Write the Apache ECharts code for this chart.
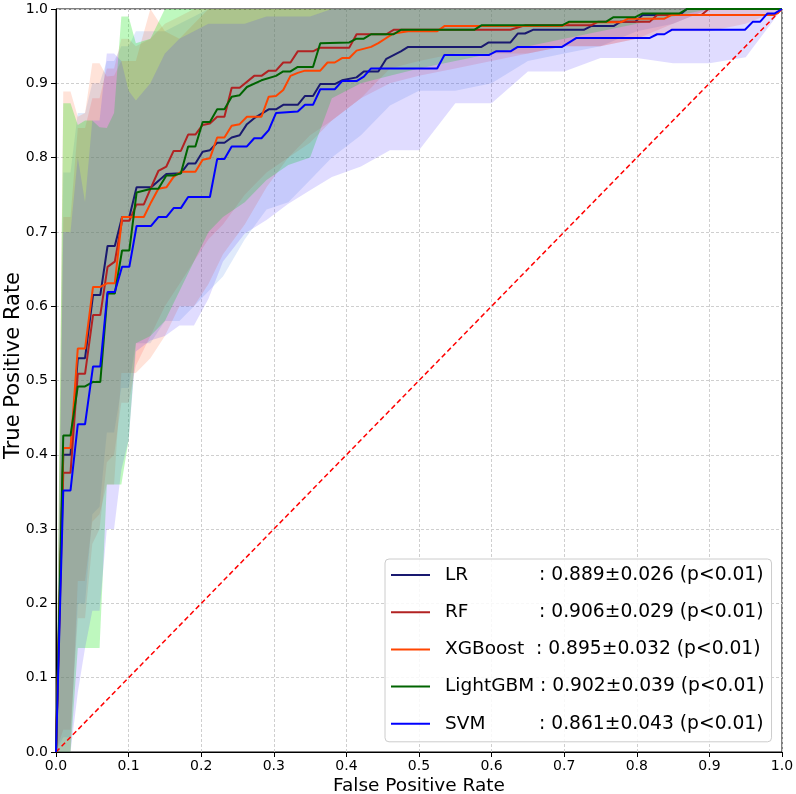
<!DOCTYPE html>
<html><head><meta charset="utf-8">
<script src="https://cdn.jsdelivr.net/npm/echarts@6/dist/echarts.min.js"></script>
<style>html,body{margin:0;padding:0;background:#fff}#c{width:796px;height:794px}</style>
</head><body><div id="c"></div>
<script>
// ---------- data ----------
const models = ['LR', 'RF', 'XGBoost', 'LightGBM', 'SVM'];
const aucLabels = [
  ': 0.889±0.026 (p<0.01)',
  ': 0.906±0.029 (p<0.01)',
  ': 0.895±0.032 (p<0.01)',
  ': 0.902±0.039 (p<0.01)',
  ': 0.861±0.043 (p<0.01)'
];
const axisTicks = [0, 0.1, 0.2, 0.3, 0.4, 0.5, 0.6, 0.7, 0.8, 0.9, 1.0];

// mean ROC curves [fpr, tpr]
const rocLR = [[0,0],[.010,.40],[.020,.40],[.030,.53],[.040,.53],[.051,.615],[.061,.615],[.071,.681],[.081,.681],[.091,.720],[.101,.720],[.111,.760],[.131,.760],[.152,.778],[.172,.779],[.182,.792],[.192,.792],[.202,.808],[.212,.810],[.222,.820],[.232,.820],[.242,.827],[.253,.830],[.263,.845],[.273,.853],[.293,.865],[.303,.865],[.313,.871],[.333,.871],[.343,.883],[.354,.883],[.364,.899],[.384,.899],[.394,.904],[.414,.908],[.424,.916],[.444,.916],[.455,.933],[.475,.943],[.485,.949],[.586,.949],[.596,.955],[.626,.955],[.636,.967],[.646,.967],[.657,.972],[.727,.972],[.737,.977],[.768,.977],[.778,.983],[.798,.983],[.808,.992],[.859,.992],[.869,1],[1,1]];
const rocRF = [[0,0],[.010,.376],[.020,.376],[.030,.509],[.040,.509],[.051,.588],[.061,.588],[.071,.653],[.081,.660],[.091,.715],[.101,.715],[.111,.737],[.121,.737],[.131,.760],[.141,.782],[.152,.788],[.162,.809],[.172,.809],[.182,.831],[.192,.831],[.202,.844],[.212,.846],[.222,.855],[.232,.855],[.242,.894],[.253,.894],[.273,.910],[.283,.910],[.293,.917],[.303,.917],[.313,.928],[.323,.928],[.333,.943],[.354,.943],[.364,.948],[.404,.948],[.414,.966],[.455,.966],[.465,.972],[.626,.972],[.646,.978],[.737,.978],[.747,.983],[.818,.983],[.828,.992],[.889,.992],[.899,1],[1,1]];
const rocXGB = [[0,0],[.010,.409],[.020,.409],[.030,.543],[.040,.543],[.051,.626],[.061,.626],[.071,.631],[.081,.631],[.091,.720],[.121,.720],[.131,.740],[.141,.758],[.152,.760],[.162,.774],[.172,.781],[.192,.781],[.202,.797],[.212,.799],[.222,.827],[.232,.827],[.242,.843],[.253,.845],[.263,.855],[.283,.855],[.293,.882],[.303,.883],[.313,.891],[.323,.910],[.333,.914],[.343,.917],[.364,.917],[.374,.928],[.384,.928],[.394,.934],[.404,.934],[.414,.944],[.434,.949],[.444,.954],[.455,.961],[.465,.967],[.485,.970],[.525,.970],[.535,.977],[.697,.977],[.707,.982],[.778,.982],[.788,.987],[.838,.987],[.848,.992],[.990,.992],[1,1]];
const rocLGBM = [[0,0],[.010,.426],[.020,.426],[.030,.492],[.040,.492],[.051,.498],[.061,.498],[.071,.617],[.081,.617],[.091,.675],[.101,.675],[.111,.753],[.131,.758],[.141,.758],[.152,.776],[.162,.776],[.172,.779],[.182,.815],[.192,.815],[.202,.848],[.212,.848],[.222,.865],[.232,.865],[.242,.882],[.253,.884],[.263,.895],[.283,.904],[.303,.910],[.313,.916],[.323,.916],[.333,.922],[.354,.922],[.364,.954],[.404,.955],[.414,.960],[.424,.960],[.434,.966],[.465,.966],[.475,.972],[.576,.972],[.586,.978],[.697,.978],[.707,.983],[.758,.983],[.768,.989],[.798,.989],[.808,.994],[.859,.994],[.869,1],[1,1]];
const rocSVM = [[0,0],[.010,.352],[.020,.352],[.030,.441],[.040,.441],[.051,.519],[.061,.519],[.071,.619],[.081,.619],[.091,.653],[.101,.653],[.111,.708],[.131,.708],[.141,.720],[.152,.720],[.162,.732],[.172,.732],[.182,.747],[.212,.747],[.222,.798],[.232,.798],[.242,.815],[.263,.815],[.273,.826],[.283,.826],[.293,.837],[.303,.860],[.333,.862],[.343,.871],[.354,.871],[.364,.892],[.384,.892],[.394,.903],[.414,.903],[.424,.909],[.434,.920],[.525,.920],[.535,.938],[.596,.938],[.606,.943],[.626,.943],[.636,.949],[.697,.949],[.717,.961],[.818,.961],[.828,.966],[.838,.966],[.848,.972],[.949,.972],[.960,.983],[.970,.983],[.980,.994],[.990,.994],[1,1]];

// ±1 std bands
const bandX    = [0, .01, .02, .03, .04, .05, .06, .07, .08, .09, .10, .11, .13, .15, .17, .19, .21, .23, .26, .29, .32, .35, .38, .42, .46, .50, .55, .60, .65, .70, .75, .80, .85, .90, .95, 1.0];
const upperLR  = [0, .78, .78, .86, .86, .90, .90, .93, .93, .95, .95, .97, .97, .97, .98, .99, 1, 1, 1, 1, 1, 1, 1, 1, 1, 1, 1, 1, 1, 1, 1, 1, 1, 1, 1, 1];
const lowerLR  = [0, .02, .02, .20, .20, .32, .33, .43, .43, .49, .49, .55, .55, .58, .58, .60, .62, .64, .69, .73, .74, .77, .80, .83, .87, .89, .89, .90, .93, .94, .95, .97, .98, 1, 1, 1];
const upperRF  = [0, .72, .72, .84, .84, .88, .88, .92, .92, .96, .96, .95, .96, .98, .99, 1, 1, 1, 1, 1, 1, 1, 1, 1, 1, 1, 1, 1, 1, 1, 1, 1, 1, 1, 1, 1];
const lowerRF  = [0, .03, .03, .18, .18, .28, .30, .39, .40, .47, .47, .52, .56, .60, .63, .66, .69, .71, .75, .78, .80, .83, .85, .88, .90, .91, .92, .93, .94, .95, .95, .96, .98, 1, 1, 1];
const upperXGB = [0, .889, .889, .855, .86, .927, .927, .909, .91, .93, .93, .93, 1, .97, .96, .98, 1, 1, 1, 1, 1, 1, 1, 1, 1, 1, 1, 1, 1, 1, 1, 1, 1, 1, 1, 1];
const lowerXGB = [0, 0, 0, .23, .23, .31, .32, .36, .36, .51, .51, .51, .53, .56, .60, .60, .63, .67, .71, .76, .80, .82, .85, .88, .92, .93, .94, .94, .94, .95, .95, .96, .97, .97, .98, 1];
const upperLGBM= [0, .873, .873, .844, .85, .85, .841, .84, .86, .99, .99, .954, .96, 1, 1, 1, 1, 1, 1, 1, 1, 1, 1, 1, 1, 1, 1, 1, 1, 1, 1, 1, 1, 1, 1, 1];
const lowerLGBM= [0, 0, 0, .14, .14, .14, .14, .36, .36, .36, .42, .55, .56, .58, .62, .66, .70, .72, .74, .77, .79, .80, .88, .90, .91, .92, .93, .94, .95, .96, .97, .98, .99, 1, 1, 1];
const upperSVM = [0, .70, .70, .80, .74, .85, .85, .94, .94, .93, .89, .877, .90, .94, .96, .97, .98, .98, .98, .99, .99, .99, 1, 1, 1, 1, 1, 1, 1, 1, 1, 1, 1, 1, 1, 1];
const lowerSVM = [0, 0, 0, .08, .14, .19, .19, .30, .30, .38, .42, .539, .554, .56, .574, .574, .61, .66, .698, .716, .738, .756, .774, .788, .81, .81, .873, .873, .916, .916, .934, .934, .927, .927, .935, 1];

const diagonal = [[0, 0], [1, 1]];

// ---------- styling ----------
const curves = [rocLR, rocRF, rocXGB, rocLGBM, rocSVM];
const uppers = [upperLR, upperRF, upperXGB, upperLGBM, upperSVM];
const lowers = [lowerLR, lowerRF, lowerXGB, lowerLGBM, lowerSVM];
const lineColors = ['#191970', '#b22222', '#ff4500', '#006400', '#0000ff'];
const bandColors = ['rgba(100,149,237,0.20)', 'rgba(255,0,0,0.12)', 'rgba(255,69,0,0.15)', 'rgba(20,230,20,0.28)', 'rgba(70,50,255,0.17)'];
const FONT = 'DejaVu Sans';

function bandSeries(idx) {
  const up = uppers[idx], lo = lowers[idx];
  return {
    type: 'custom', name: models[idx] + ' band', silent: true, z: 1,
    data: [[0, 0]],
    renderItem: function (params, api) {
      const pts = [];
      for (let i = 0; i < bandX.length; i++) pts.push(api.coord([bandX[i], up[i]]));
      for (let i = bandX.length - 1; i >= 0; i--) pts.push(api.coord([bandX[i], lo[i]]));
      return { type: 'polygon', shape: { points: pts }, style: { fill: bandColors[idx] } };
    }
  };
}

const series = [];
for (let i = 0; i < models.length; i++) series.push(bandSeries(i));
series.push({
  type: 'line', name: 'diag', data: diagonal, showSymbol: false, symbol: 'none', z: 2, silent: true,
  lineStyle: { color: '#ff0000', width: 1.5, type: [5, 3] }
});
for (let i = 0; i < models.length; i++) {
  series.push({
    type: 'line', name: models[i], data: curves[i], showSymbol: false, symbol: 'none', z: 3 + i,
    color: lineColors[i], lineStyle: { color: lineColors[i], width: 2 }
  });
}

const nameWidths = { 'LR': 94, 'RF': 94, 'XGBoost': 91, 'LightGBM': 95, 'SVM': 94 };
const rich = {};
models.forEach((m, i) => {
  rich['n' + i] = { fontFamily: FONT, fontSize: 18.5, color: '#000', width: nameWidths[m], lineHeight: 22 };
});
rich.v = { fontFamily: FONT, fontSize: 18.7, color: '#000', lineHeight: 22 };

const chart = echarts.init(document.getElementById('c'), null, { renderer: 'canvas' });
chart.setOption({
  animation: false,
  backgroundColor: '#ffffff',
  grid: { left: 56, right: 14, top: 9, bottom: 42, show: true, borderColor: '#000', borderWidth: 1, outerBoundsMode: 'none' },
  xAxis: {
    type: 'value', min: 0, max: 1, interval: 0.1,
    name: 'False Positive Rate', nameLocation: 'middle', nameGap: 25, nameMoveOverlap: false,
    nameTextStyle: { fontFamily: FONT, fontSize: 18.5, color: '#000' },
    axisLine: { show: true, onZero: false, lineStyle: { color: '#000', width: 1 } },
    axisTick: { show: true, length: 5, lineStyle: { color: '#000' } },
    axisLabel: { fontFamily: FONT, fontSize: 14, color: '#000', margin: 7, formatter: v => v.toFixed(1),
      customValues: axisTicks },
    splitLine: { show: true, lineStyle: { color: '#cfcfcf', width: 1, type: [3, 2] } }
  },
  yAxis: {
    type: 'value', min: 0, max: 1, interval: 0.1,
    name: 'True Positive Rate', nameLocation: 'middle', nameGap: 32, nameMoveOverlap: false,
    nameTextStyle: { fontFamily: FONT, fontSize: 21, color: '#000', padding: [0, 0, 0, 30] },
    axisLine: { show: true, onZero: false, lineStyle: { color: '#000', width: 1 } },
    axisTick: { show: true, length: 5, lineStyle: { color: '#000' } },
    axisLabel: { fontFamily: FONT, fontSize: 14, color: '#000', margin: 8, formatter: v => v.toFixed(1),
      customValues: axisTicks },
    splitLine: { show: true, lineStyle: { color: '#cfcfcf', width: 1, type: [3, 2] } }
  },
  legend: {
    data: models,
    orient: 'vertical',
    left: 385, top: 559,
    icon: 'rect', itemWidth: 39, itemHeight: 2,
    itemGap: 15.2,
    padding: [5, 7, 7, 6],
    backgroundColor: 'rgba(255,255,255,0.85)',
    borderColor: '#cccccc', borderWidth: 1, borderRadius: 4,
    selectedMode: false,
    textStyle: { fontFamily: FONT, fontSize: 18.5, color: '#000', lineHeight: 22, padding: [0, 0, 0, 10], rich: rich },
    formatter: function (name) {
      const i = models.indexOf(name);
      return '{n' + i + '|' + name + '}{v|' + aucLabels[i] + '}';
    }
  },
  series: series
});
</script>
</body></html>
